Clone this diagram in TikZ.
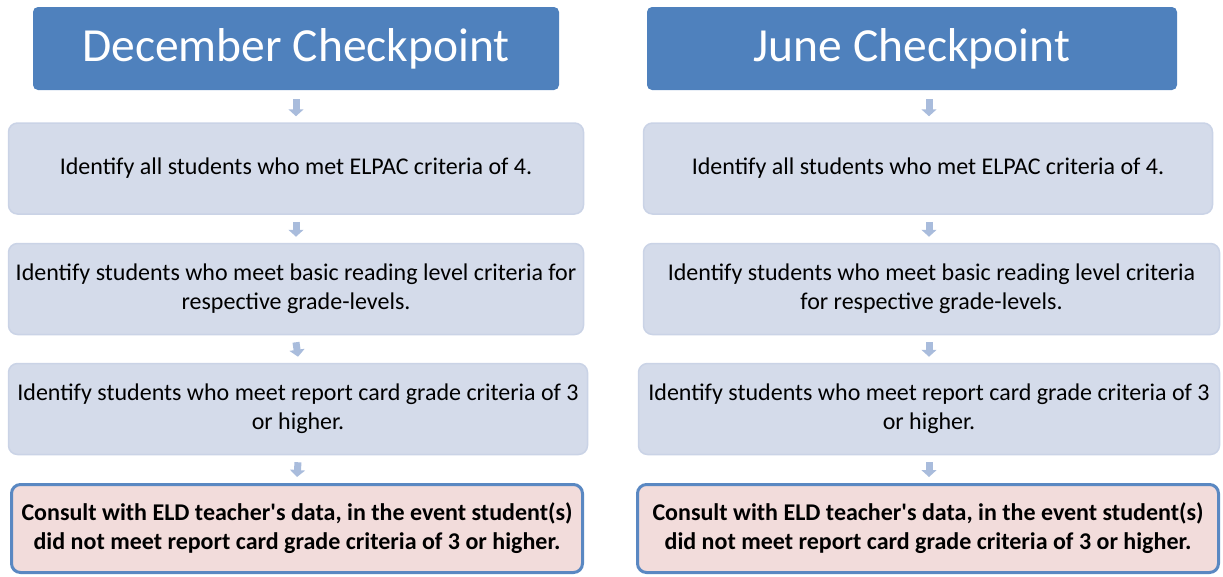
\documentclass[tikz,border=0pt]{standalone}
\usepackage{fontspec}
\setmainfont{Carlito}
\usetikzlibrary{arrows.meta,calc}
\definecolor{hdr}{HTML}{4F81BD}
\definecolor{boxfill}{HTML}{D4DBEA}
\definecolor{boxline}{HTML}{CAD3E6}
\definecolor{pinkfill}{HTML}{F2DCDB}
\definecolor{pinkline}{HTML}{5A88C2}
\definecolor{arr}{HTML}{A9BCDC}
\tikzset{
  header/.style={rectangle,rounded corners=5pt,fill=hdr,text=white,font=\fontsize{47.5}{56}\selectfont,inner sep=0pt,minimum height=83pt},
  stepbox/.style={rectangle,rounded corners=9pt,fill=boxfill,draw=boxline,line width=1.5pt,font=\fontsize{24}{29}\selectfont,align=center,inner sep=0pt,minimum height=91pt},
  endbox/.style={rectangle,rounded corners=9pt,fill=pinkfill,draw=pinkline,line width=3pt,font=\bfseries\fontsize{24}{29}\selectfont,align=center,inner sep=0pt,minimum height=88pt},
  flow/.style={draw=arr,line width=7pt,-{Triangle[width=15pt,length=7pt]}}
}
\begin{document}
\begin{tikzpicture}[x=1pt,y=-1pt]
\useasboundingbox (0,0) rectangle (1223,576);
% left column
\node[header,minimum width=526pt] (hL) at (296,48.5) {December Checkpoint};
\node[stepbox,minimum width=575pt] (L1) at (296,168.5) {Identify all students who met ELPAC criteria of 4.};
\node[stepbox,minimum width=575pt] (L2) at (296,289) {Identify students who meet basic reading level criteria for\\respective grade-levels.};
\node[stepbox,minimum width=579pt] (L3) at (298,409) {Identify students who meet report card grade criteria of 3\\or higher.};
\node[endbox,minimum width=571pt] (L4) at (297,528.5) {Consult with ELD teacher\textquotesingle s data, in the event student(s)\\did not meet report card grade criteria of 3 or higher.};
% right column
\node[header,minimum width=530pt] (hR) at (912,48.5) {June Checkpoint};
\node[stepbox,minimum width=569pt] (R1) at (928,168.5) {Identify all students who met ELPAC criteria of 4.};
\node[stepbox,minimum width=576pt] (R2) at (931.5,289) {Identify students who meet basic reading level criteria\\for respective grade-levels.};
\node[stepbox,minimum width=581pt] (R3) at (929,409) {Identify students who meet report card grade criteria of 3\\or higher.};
\node[endbox,minimum width=581pt] (R4) at (928,528.5) {Consult with ELD teacher\textquotesingle s data, in the event student(s)\\did not meet report card grade criteria of 3 or higher.};
% arrows
\draw[flow] ($(hL.south)+(0,9)$) -- ($(L1.north)+(0,-6)$);
\draw[flow] ($(L1.south)+(0,7)$) -- ($(L2.north)+(0,-6)$);
\draw[flow] ($(L2.south)+(0,7)$) -- ($(L3.north)+(0,-6)$);
\draw[flow] ($(L3.south)+(0,7)$) -- ($(L4.north)+(0,-6)$);
\draw[flow] ($(hR.south -| R1.north)+(1,9)$) -- ($(R1.north)+(1,-6)$);
\draw[flow] ($(R1.south)+(1,7)$) -- ($(R2.north -| R1.south)+(1,-6)$);
\draw[flow] ($(R2.south -| R1.south)+(1,7)$) -- ($(R3.north -| R1.south)+(1,-6)$);
\draw[flow] ($(R3.south -| R1.south)+(1,7)$) -- ($(R4.north -| R1.south)+(1,-6)$);
\end{tikzpicture}
\end{document}
